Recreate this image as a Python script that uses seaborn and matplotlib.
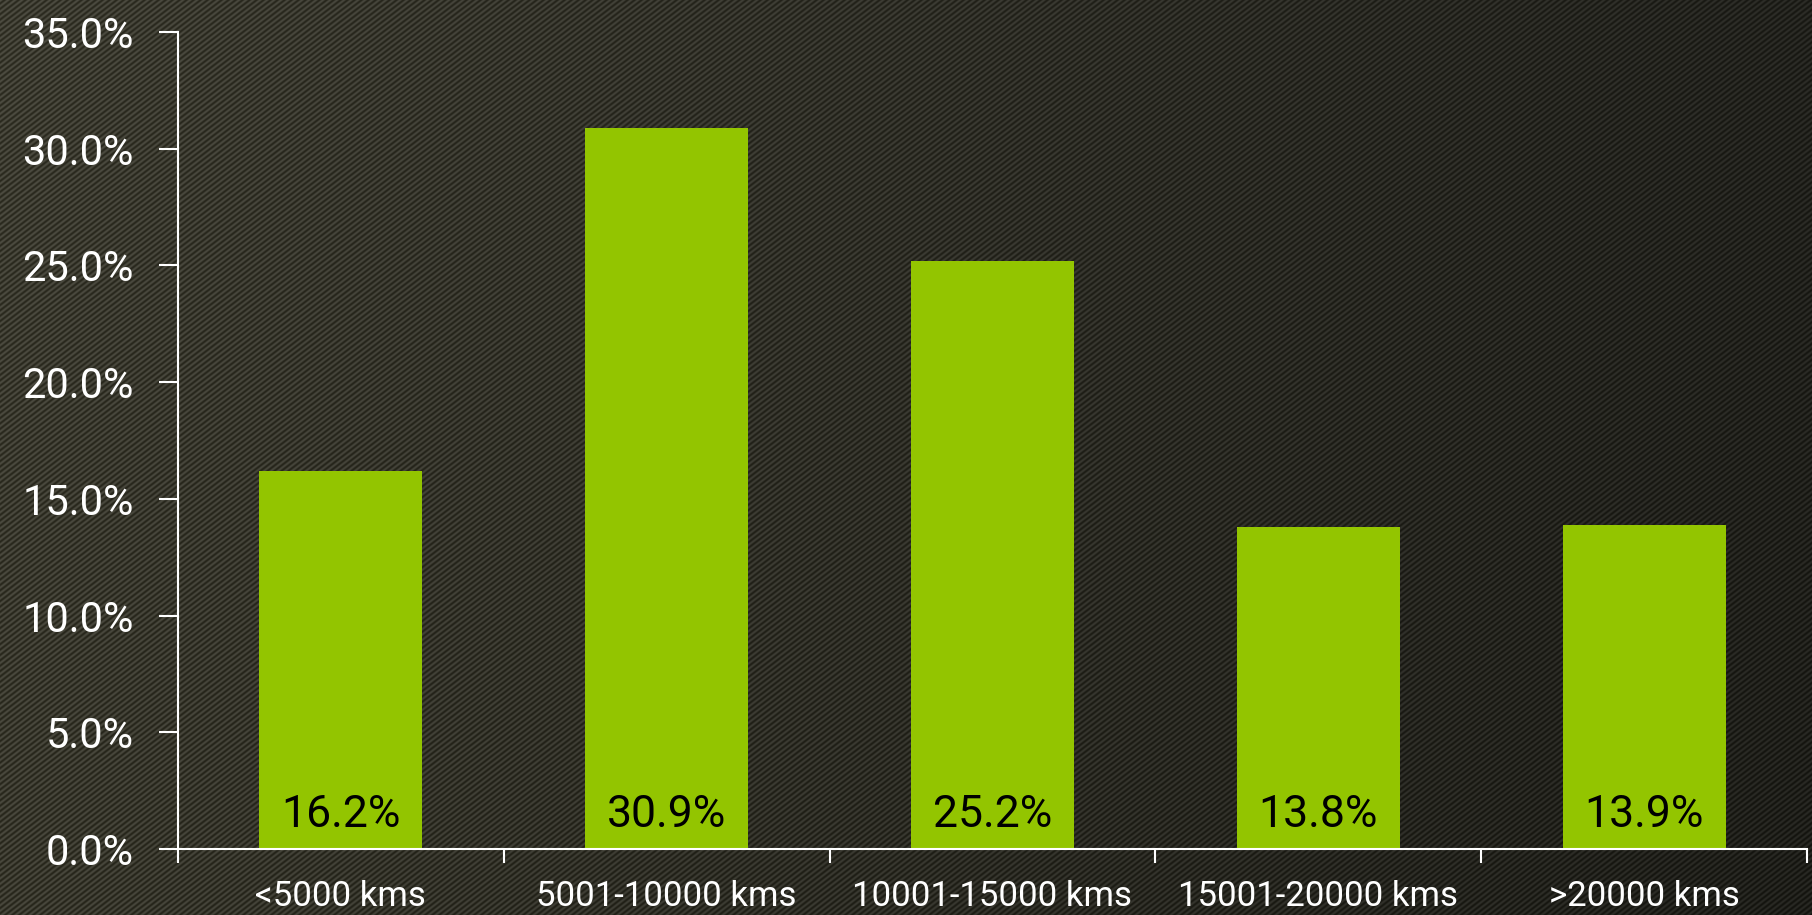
import numpy as np
import pandas as pd
import matplotlib
matplotlib.use("Agg")
import matplotlib.pyplot as plt
import seaborn as sns

categories = ["<5000 kms", "5001-10000 kms", "10001-15000 kms", "15001-20000 kms", ">20000 kms"]
values = [16.2, 30.9, 25.2, 13.8, 13.9]
y_ticks = [0, 5, 10, 15, 20, 25, 30, 35]

sns.set_theme(style="white")
plt.rcParams["font.family"] = ["Roboto", "DejaVu Sans"]

W, H = 1812, 915
fig = plt.figure(figsize=(W / 100, H / 100), dpi=100)

# textured background
xx, yy = np.meshgrid(np.arange(W), np.arange(H))
t = (xx / W)[..., None]
base = (1 - t) * np.array([60, 59, 48]) + t * np.array([34, 34, 29])
base = base - (yy / H)[..., None] * 4
stripe = np.cos(2 * np.pi * (xx + 1.3 * yy) / 7.0)
amp = 18 - 7 * (xx / W)
img = base + (stripe * amp)[..., None]
img = np.clip(img, 0, 255).astype(np.uint8)
bg = fig.add_axes([0, 0, 1, 1], zorder=-10)
bg.imshow(img, aspect="auto", interpolation="nearest")
bg.axis("off")

ax = fig.add_axes([178 / W, 1 - 849 / H, (1807 - 178) / W, (849 - 32) / H])
ax.patch.set_alpha(0)

df = pd.DataFrame({"cat": categories, "val": values})
sns.barplot(data=df, x="cat", y="val", color="#93C500", saturation=1, width=0.5,
            edgecolor="none", linewidth=0, ax=ax)

ax.set_xlim(-0.5, len(categories) - 0.5)
ax.set_ylim(0, 35)
ax.set_yticks(y_ticks)
ax.set_yticklabels([f"{v:.1f}%" for v in y_ticks], color="white", fontsize=30)
ax.set_xticks(np.arange(len(categories) + 1) - 0.5)
ax.set_xticklabels([""] * (len(categories) + 1))
ax.set_xticks(np.arange(len(categories)), minor=True)
ax.set_xticklabels(categories, minor=True, color="white", fontsize=25)
ax.tick_params(axis="x", which="major", direction="out", length=10, width=1.5, color="white", bottom=True)
ax.tick_params(axis="x", which="minor", length=0, pad=22)
ax.tick_params(axis="y", direction="out", length=14, width=1.5, color="white", left=True, pad=18)
ax.set_xlabel("")
ax.set_ylabel("")

for s in ["top", "right"]:
    ax.spines[s].set_visible(False)
for s in ["left", "bottom"]:
    ax.spines[s].set_color("white")
    ax.spines[s].set_linewidth(1.5)

for i, v in enumerate(values):
    ax.text(i, 0.55, f"{v:.1f}%", ha="center", va="bottom", color="black", fontsize=32)

fig.savefig("out.png", dpi=100)
